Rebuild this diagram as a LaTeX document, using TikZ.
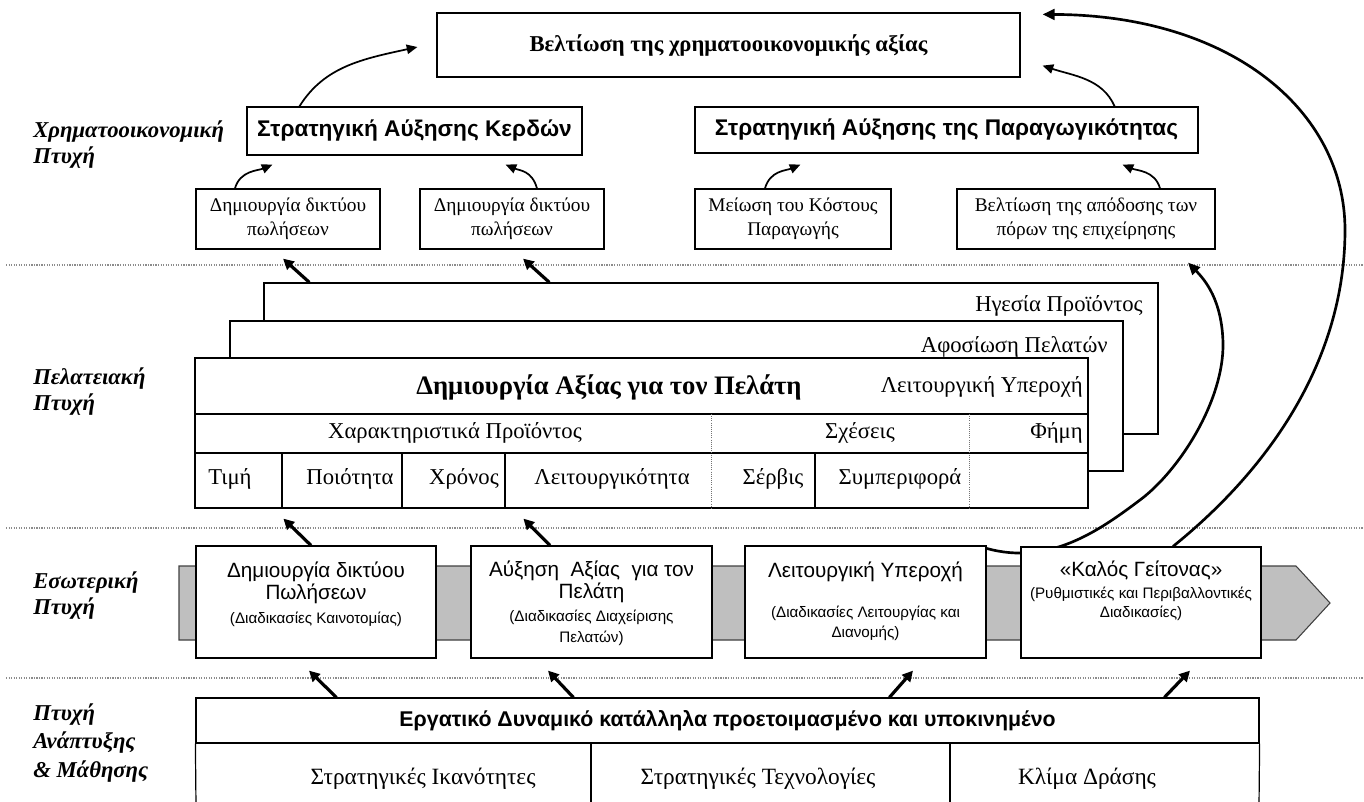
\documentclass[tikz,border=0pt]{standalone}
\usepackage{fontspec}
\setmainfont{Liberation Serif}
\setsansfont{Liberation Sans}
\usetikzlibrary{arrows.meta,calc}

\newcommand{\procsub}{\fontsize{11.4pt}{14pt}\selectfont}

\begin{document}
\begin{tikzpicture}[x=0.75pt,y=-0.75pt,
  sz/.style 2 args={minimum width=#1*0.75pt, minimum height=#2*0.75pt},
  box/.style={draw=black, line width=0.9pt, fill=white, inner sep=0pt},
  rule/.style={draw=black, line width=0.9pt},
  sep/.style={draw=black!45, densely dotted, line width=0.9pt},
  cell sep/.style={draw=black!55, densely dotted, line width=0.6pt},
  band/.style={fill=black!25, draw=black!75, line width=0.8pt},
  thin arrow/.style={draw, line width=1.3pt, -{Triangle[length=8pt,width=7pt]}},
  thick arrow/.style={draw, line width=2.4pt, -{Triangle[length=8pt,width=8pt]}},
  curve arrow/.style={draw, line width=2pt, -{Triangle[length=9pt,width=8pt]}},
  lab/.style={font=\fontsize{17pt}{19.5pt}\selectfont\bfseries\itshape, align=left, inner sep=0pt, anchor=west},
  topfont/.style={font=\fontsize{17pt}{19pt}\selectfont\bfseries},
  stratfont/.style={font=\sffamily\fontsize{17pt}{19pt}\selectfont\bfseries},
  smallfont/.style={font=\fontsize{14.5pt}{18pt}\selectfont, align=center},
  custfont/.style={font=\fontsize{17pt}{19pt}\selectfont, inner sep=0pt},
  headfont/.style={font=\fontsize{20pt}{22pt}\selectfont\bfseries, inner sep=0pt},
  proctext/.style={font=\sffamily\fontsize{15.5pt}{16.5pt}\selectfont, align=center, inner sep=0pt},
  workfont/.style={font=\sffamily\fontsize{16pt}{18pt}\selectfont\bfseries},
  botfont/.style={font=\fontsize{17.5pt}{19pt}\selectfont, inner sep=0pt}
]
\useasboundingbox (0,0) rectangle (1364,801);

% section separators
\draw[sep] (6,265) -- (1364,265);
\draw[sep] (6,528) -- (1364,528);
\draw[sep] (6,678) -- (1364,678);

% perspective labels
\node[lab] (lfin) at (33,145) {Χρηματοοικονομική\\Πτυχή};
\node[lab] (lcus) at (33,392) {Πελατειακή\\Πτυχή};
\node[lab] (lint) at (33,596) {Εσωτερική\\Πτυχή};
\node[lab, font=\fontsize{17pt}{21.5pt}\selectfont\bfseries\itshape] (llrn) at (33,743) {Πτυχή\\Ανάπτυξης\\\& Μάθησης};

% financial perspective
\node[box, topfont, sz={583}{64}] (top) at (728.5,45) {Βελτίωση της χρηματοοικονομικής αξίας};
\node[box, stratfont, sz={335}{48}] (kerd) at (414.5,131) {Στρατηγική Αύξησης Κερδών};
\node[box, stratfont, sz={503}{46}] (prod) at (946.5,130) {Στρατηγική Αύξησης της Παραγωγικότητας};
\node[box, smallfont, sz={184}{60}] (f1) at (288,219) {Δημιουργία δικτύου\\πωλήσεων};
\node[box, smallfont, sz={184}{60}] (f2) at (512,219) {Δημιουργία δικτύου\\πωλήσεων};
\node[box, smallfont, sz={196}{60}] (f3) at (793,219) {Μείωση του Κόστους\\Παραγωγής};
\node[box, smallfont, sz={258}{60}] (f4) at (1086,219) {Βελτίωση της απόδοσης των\\πόρων της επιχείρησης};

\draw[thin arrow] ($(f1.north)+(-53,0)$) .. controls +(5,-18) and +(-14,6) .. ($(kerd.south west)+(26,9)$);
\draw[thin arrow] ($(f2.north)+(25,0)$) .. controls +(-5,-18) and +(14,6) .. ($(kerd.south east)+(-77,9)$);
\draw[thin arrow] ($(f3.north)+(-28,0)$) .. controls +(5,-18) and +(-14,6) .. ($(prod.south west)+(106,11)$);
\draw[thin arrow] ($(f4.north)+(74,0)$) .. controls +(-5,-18) and +(14,6) .. ($(prod.south east)+(-76,11)$);
\draw[thin arrow] ($(kerd.north west)+(53,0)$) .. controls +(25,-40) and +(-55,12) .. ($(top.west)+(-19,2)$);
\draw[thin arrow] ($(prod.north east)+(-84,0)$) .. controls +(-12,-28) and +(30,10) .. ($(top.south east)+(22,-12)$);

% customer perspective: stacked cards
\node[box, sz={894}{151}] (lead) at (711,358.5) {};
\node[custfont, anchor=east] (leadt) at (1143,306) {Ηγεσία Προϊόντος};
\node[box, sz={893}{150}] (loyal) at (676.5,396) {};
\node[custfont, anchor=east] (loyalt) at (1108,347) {Αφοσίωση Πελατών};
\node[box, sz={893}{150}] (cust) at (641.5,433) {};
\node[headfont] (custt) at (609,387) {Δημιουργία Αξίας για τον Πελάτη};
\node[custfont, anchor=east] (opex) at (1083,387) {Λειτουργική Υπεροχή};
\draw[rule] (195,414) -- (1088,414);
\draw[rule] (195,453) -- (1088,453);
\draw[cell sep] (711,414) -- (711,508);
\draw[cell sep] (969,414) -- (969,508);
\foreach \cx in {282,402,505,815} \draw[rule] (\cx,453) -- (\cx,508);
\node[custfont] (feat) at (455,433) {Χαρακτηριστικά Προϊόντος};
\node[custfont] (rel) at (860,433) {Σχέσεις};
\node[custfont, anchor=east] (fame) at (1083,433) {Φήμη};
\node[custfont] (c1) at (230,479) {Τιμή};
\node[custfont] (c2) at (350,479) {Ποιότητα};
\node[custfont] (c3) at (464,479) {Χρόνος};
\node[custfont] (c4) at (612,479) {Λειτουργικότητα};
\node[custfont] (c5) at (773,479) {Σέρβις};
\node[custfont] (c6) at (900,479) {Συμπεριφορά};

\draw[thick arrow] ($(lead.north west)+(46,0)$) -- ($(f1.south)+(-5,9)$);
\draw[thick arrow] ($(lead.north west)+(286,0)$) -- ($(f2.south)+(11,9)$);

% internal perspective: process chain
\draw[band] (179,566) -- (1296,566) -- (1330,603) -- (1296,640) -- (179,640) -- cycle;

\node[box, sz={241}{112}] (p3) at (865.5,602) {};
\node[box, sz={240}{111}] (p4) at (1141,602.5) {};
\draw[curve arrow] ($(p4.north)+(32,0)$) .. controls (1280,460) and (1345,350) .. (1345,230)
   .. controls (1345,110) and (1230,15) .. ($(top.north east)+(22,2)$);
\draw[curve arrow] ($(p3.north east)+(0,3)$) .. controls (1050,566) and (1100,530) .. (1140,500)
   .. controls (1180,470) and (1224,400) .. (1223,343)
   .. controls (1222,300) and (1205,280) .. ($(f4.south)+(102,13)$);

\node[box, sz={240}{112}] (p1) at (316,602) {};
\node[box, sz={241}{112}] (p2) at (591.5,602) {};
\node[box, sz={240}{111}] (p4front) at (1141,602.5) {};
\node[proctext] (p1t) at ($(p1.center)+(0,-8)$) {Δημιουργία δικτύου\\Πωλήσεων\\[1.5pt]\procsub (Διαδικασίες Καινοτομίας)};
\node[proctext] (p2t) at ($(p2.center)+(0,1)$) {Αύξηση\ \ Αξίας\ \ για τον\\Πελάτη\\[1pt]\procsub (Διαδικασίες Διαχείρισης\\[-0.75pt]\procsub Πελατών)};
\node[proctext] (p3t) at ($(p3.center)+(0,-0.5)$) {Λειτουργική Υπεροχή\\[13.5pt]\procsub (Διαδικασίες Λειτουργίας και\\[-1.5pt]\procsub Διανομής)};
\node[proctext] (p4t) at ($(p4.center)+(0,-11.5)$) {«Καλός Γείτονας»\\\procsub (Ρυθμιστικές και Περιβαλλοντικές\\[-2.25pt]\procsub Διαδικασίες)};

\draw[thick arrow] ($(p1.north)+(-5,0)$) -- ($(cust.south west)+(89,10)$);
\draw[thick arrow] ($(p2.north)+(-41.5,0)$) -- ($(cust.south west)+(329,10)$);

% learning and growth perspective
\node[box, workfont, sz={1063}{45}] (work) at (727.5,720.5) {Εργατικό Δυναμικό κατάλληλα προετοιμασμένο και υποκινημένο};
\draw[rule] (work.south west) -- (196,806);
\draw[rule] (work.south east) -- (1259,806);
\draw[rule] (591,743) -- (591,806);
\draw[rule] (950,743) -- (950,806);
\node[botfont] (skills) at (423,779) {Στρατηγικές Ικανότητες};
\node[botfont] (tech) at (758,779) {Στρατηγικές Τεχνολογίες};
\node[botfont] (clim) at (1087,779) {Κλίμα Δράσης};

\draw[thick arrow] ($(work.north west)+(141,0)$) -- ($(p1.south)+(-7,12)$);
\draw[thick arrow] ($(work.north west)+(378,0)$) -- ($(p2.south)+(-43.5,12)$);
\draw[thick arrow] ($(work.north west)+(694,0)$) -- ($(p3.south)+(47.5,12)$);
\draw[thick arrow] ($(work.north west)+(969,0)$) -- ($(p4.south)+(49,12)$);
\end{tikzpicture}
\end{document}
